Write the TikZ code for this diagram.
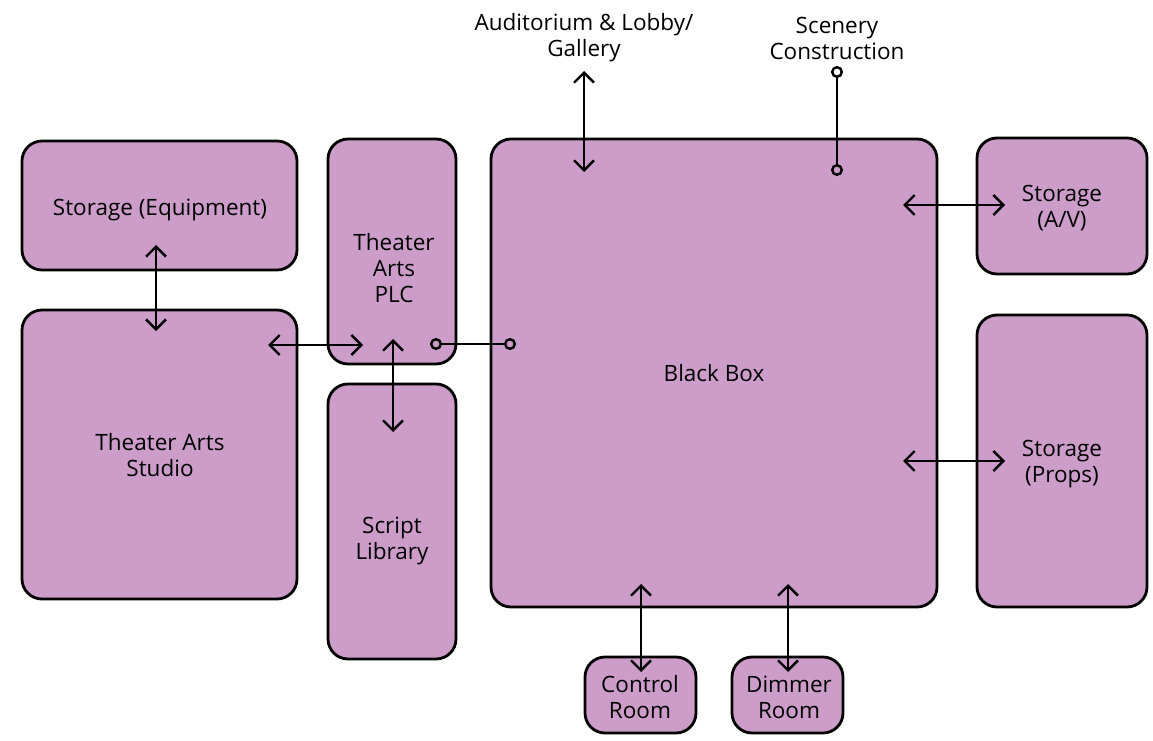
\documentclass[tikz,border=0pt]{standalone}
\usepackage{fontspec}
\setmainfont{Open Sans}
\usetikzlibrary{arrows.meta}
\definecolor{boxfill}{HTML}{CB9DC8}
\tikzset{
  room/.style={draw=black, line width=2.8pt, fill=boxfill, rounded corners=20pt, inner sep=0pt},
  txt/.style={align=center, font=\fontsize{22.5}{26}\selectfont, inner sep=0pt},
  link/.style={line width=2.4pt, {Straight Barb[length=10pt,width=20pt,line width=2.4pt]}-{Straight Barb[length=10pt,width=20pt,line width=2.4pt]}},
  dotlink/.style={line width=2.4pt, {Circle[open,length=12pt,width=12pt,line width=2.4pt]}-{Circle[open,length=12pt,width=12pt,line width=2.4pt]}},
}
\begin{document}
\begin{tikzpicture}[x=1pt,y=-1pt]
\useasboundingbox (0,0) rectangle (1153,741);
% rooms
\node[room, minimum width=275pt, minimum height=129pt] (stoeq) at (159.5,205.5) {};
\node[room, minimum width=275pt, minimum height=289pt] (studio) at (159.5,454.5) {};
\node[room, minimum width=128pt, minimum height=225pt] (plc) at (392,251.5) {};
\node[room, minimum width=128pt, minimum height=275pt] (script) at (392,521.5) {};
\node[room, minimum width=446pt, minimum height=468pt] (bbox) at (714,373) {};
\node[room, minimum width=170pt, minimum height=136pt] (stoav) at (1062,206) {};
\node[room, minimum width=170pt, minimum height=292pt] (props) at (1062,461) {};
\node[room, minimum width=111pt, minimum height=76pt] (ctrl) at (640.5,695) {};
\node[room, minimum width=111pt, minimum height=76pt] (dimm) at (787.5,695) {};
% texts
\node[txt] (tstoeq) at (160,210) {Storage (Equipment)};
\node[txt] (tstudio) at (160,455) {Theater Arts\\Studio};
\node[txt] (tplc) at (394,268) {Theater\\Arts\\PLC};
\node[txt] (tscript) at (392,541) {Script\\Library};
\node[txt] (tbbox) at (714,373) {Black Box};
\node[txt] (tstoav) at (1062,208) {Storage\\(A/V)};
\node[txt] (tprops) at (1062,464) {Storage\\(Props)};
\node[txt] (tctrl) at (640,697) {Control\\Room};
\node[txt] (tdimm) at (789,697) {Dimmer\\Room};
\node[txt] (aud) at (584,38) {Auditorium \& Lobby/\\Gallery};
\node[txt] (scen) at (837,38) {Scenery\\Construction};
% connector end points
\coordinate (a1) at (156,245); \coordinate (a2) at (156,331);
\coordinate (b1) at (268,345); \coordinate (b2) at (363,345);
\coordinate (c1) at (393,339); \coordinate (c2) at (393,432);
\coordinate (d1) at (430,344); \coordinate (d2) at (516,344);
\coordinate (e1) at (584,71); \coordinate (e2) at (584,172);
\coordinate (f1) at (837,66); \coordinate (f2) at (837,176);
\coordinate (g1) at (903,205); \coordinate (g2) at (1005,205);
\coordinate (h1) at (903,461); \coordinate (h2) at (1005,461);
\coordinate (i1) at (641,584); \coordinate (i2) at (641,672);
\coordinate (j1) at (788,584); \coordinate (j2) at (788,672);
% connectors
\draw[link] (a1) -- (a2);
\draw[link] (b1) -- (b2);
\draw[link] (c1) -- (c2);
\draw[dotlink] (d1) -- (d2);
\draw[link] (e1) -- (e2);
\draw[dotlink] (f1) -- (f2);
\draw[link] (g1) -- (g2);
\draw[link] (h1) -- (h2);
\draw[link] (i1) -- (i2);
\draw[link] (j1) -- (j2);
\end{tikzpicture}
\end{document}
